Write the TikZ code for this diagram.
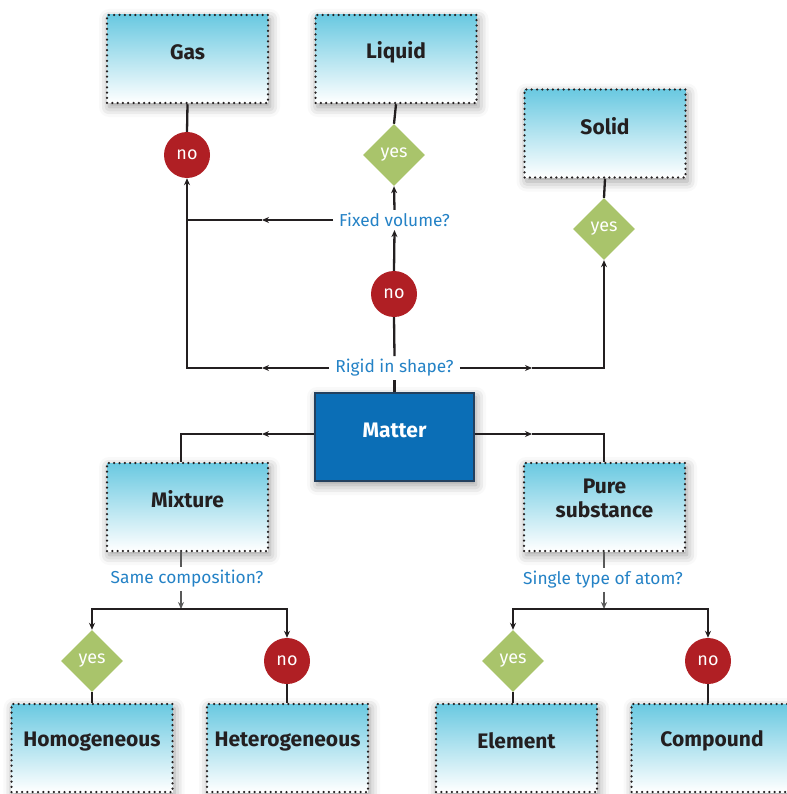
\documentclass[tikz,border=0pt]{standalone}
\usepackage{fontspec}
\setmainfont{Fira Sans}
\usetikzlibrary{shapes.geometric,arrows.meta,shadows.blur}
\definecolor{boxtop}{RGB}{106,201,225}
\definecolor{nored}{RGB}{176,31,36}
\definecolor{yesgreen}{RGB}{169,196,107}
\definecolor{matterblue}{RGB}{11,110,182}
\definecolor{matterborder}{RGB}{35,64,94}
\definecolor{qblue}{RGB}{36,130,198}
\definecolor{txtblack}{RGB}{35,31,32}
\begin{document}
\begin{tikzpicture}[x=1pt,y=-1pt,
  box/.style={rectangle, minimum width=161pt, minimum height=88pt, inner sep=0pt,
    top color=boxtop, bottom color=white, draw=txtblack, line width=2.5pt,
    dash pattern=on 0pt off 5.3pt, line cap=round,
    blur shadow={shadow xshift=2pt, shadow yshift=-4pt, shadow blur radius=10pt, shadow opacity=40}},
  mattbox/.style={rectangle, minimum width=159pt, minimum height=88pt, inner sep=0pt,
    fill=matterblue, draw=matterborder, line width=1.2pt,
    blur shadow={shadow xshift=2pt, shadow yshift=-4pt, shadow blur radius=10pt, shadow opacity=40}},
  btext/.style={font=\bfseries\fontsize{21}{24}\selectfont, text=txtblack, align=center, inner sep=0pt},
  yesd/.style={diamond, fill=yesgreen, minimum width=62pt, minimum height=62pt, inner sep=0pt,
    text=white, font=\fontsize{18}{20}\selectfont},
  nod/.style={circle, fill=nored, minimum size=46pt, inner sep=0pt,
    text=white, font=\fontsize{18}{20}\selectfont},
  qnode/.style={fill=white, text=qblue, font=\fontsize{17.3}{19}\selectfont, inner xsep=6pt, inner ysep=3pt},
  thk/.style={draw=txtblack, line width=2.3pt},
  thn/.style={draw=txtblack, line width=1.2pt},
  grey/.style={draw=black!65, line width=1.6pt},
  tip/.tip={Stealth[length=7pt,width=6pt]}
]
\useasboundingbox (0,0) rectangle (786,794);

% boxes
\node[box] (gas) at (187.5,59) {};
\node[btext] (gast) at (187.5,52) {Gas};
\node[box] (liquid) at (396,59) {};
\node[btext] (liquidt) at (396,52) {Liquid};
\node[box] (solid) at (605,133.5) {};
\node[btext] (solidt) at (605,126) {Solid};
\node[mattbox] (matter) at (394.5,437) {};
\node[btext, text=white] (mattert) at (394.5,430) {Matter};
\node[box] (mixture) at (187.5,507) {};
\node[btext] (mixturet) at (187.5,499) {Mixture};
\node[box] (pure) at (604.5,507) {};
\node[btext] (puret) at (604.5,498) {Pure\\substance};
\node[box] (homog) at (92,748) {};
\node[btext] (homogt) at (92,742) {Homogeneous};
\node[box] (heterog) at (287.5,748) {};
\node[btext] (heterogt) at (287.5,742) {Heterogeneous};
\node[box] (element) at (516.5,748) {};
\node[btext] (elementt) at (516.5,741) {Element};
\node[box] (compound) at (712,748) {};
\node[btext] (compoundt) at (712,741) {Compound};

% decisions
\node[nod] (gasno) at (187,155) {no};
\node[yesd] (liqyes) at (394,155) {yes};
\node[yesd] (solyes) at (604,229) {yes};
\node[nod] (rigidno) at (394,294) {no};
\node[yesd] (mixyes) at (92,661) {yes};
\node[nod] (mixno) at (287,661) {no};
\node[yesd] (pureyes) at (513,661) {yes};
\node[nod] (pureno) at (708,661) {no};

% questions
\node[qnode] (fixed) at (394.5,220) {Fixed volume?};
\node[qnode] (rigid) at (394.5,368) {Rigid in shape?};
\node[qnode] (samec) at (187,579) {Same composition?};
\node[qnode] (single) at (603,580) {Single type of atom?};

% coordinates
\coordinate (fva) at (262,220);
\coordinate (fvc) at (187,220);
\coordinate (a1) at (262,368);
\coordinate (c1) at (187,368);
\coordinate (a2) at (532,368);
\coordinate (c2) at (604,368);
\coordinate (a3) at (262,434);
\coordinate (c3) at (181,434);
\coordinate (a4) at (532,434);
\coordinate (c4) at (604,434);
\coordinate (m1) at (181,609);
\coordinate (ml) at (92,609);
\coordinate (mr) at (287,609);
\coordinate (p1) at (604,609);
\coordinate (pl) at (513,609);
\coordinate (pr) at (708,609);

% box to decision
\draw[thk] (gas.south) -- (gasno.north);
\draw[thk] (liquid.south) -- (liqyes.north);
\draw[thk] (solid.south) -- (solyes.north);
\draw[thk] (mixyes.south) -- (homog.north -| mixyes.south);
\draw[thk] (mixno.south) -- (heterog.north -| mixno.south);
\draw[thk] (pureyes.south) -- (element.north -| pureyes.south);
\draw[thk] (pureno.south) -- (compound.north -| pureno.south);

% top part
\draw[thk,-tip] (fixed.north) -- (liqyes.south);
\draw[thk,-tip] (rigidno.north) -- (fixed.south);
\draw[thk] (rigid.north) -- (rigidno.south);
\draw[thk] (matter.north -| rigid.north) -- (rigid.south);
\draw[thk,-tip] (fixed.west) -- (fva);
\draw[thk] (fva) -- (fvc);
\draw[thk,-tip] (rigid.west) -- (a1);
\draw[thn,-tip] (a1) -- (c1) -- (gasno.south);
\draw[thk,-tip] (rigid.east) -- (a2);
\draw[thn,-tip] (a2) -- (c2) -- (solyes.south);

% matter branches
\draw[thk,-tip] ([yshift=3pt]matter.west) -- (a3);
\draw[thn] (a3) -- (c3) -- (mixture.north -| c3);
\draw[thk,-tip] ([yshift=3pt]matter.east) -- (a4);
\draw[thn] (a4) -- (c4) -- (pure.north -| c4);

% lower branches
\draw[grey] (mixture.south -| c3) -- (samec.north -| c3);
\draw[grey,-tip] (samec.south -| c3) -- (m1);
\draw[thk,tip-tip] (mixyes.north) -- (ml) -- (mr) -- (mixno.north);
\draw[grey] (pure.south -| c4) -- (single.north -| c4);
\draw[grey,-tip] (single.south -| c4) -- (p1);
\draw[thk,tip-tip] (pureyes.north) -- (pl) -- (pr) -- (pureno.north);
\end{tikzpicture}
\end{document}
